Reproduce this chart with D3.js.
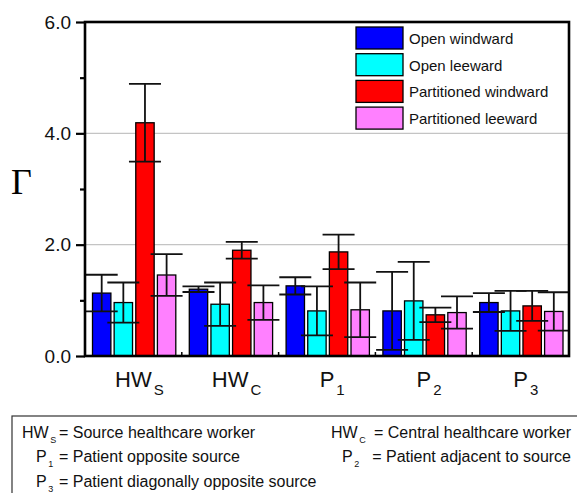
<!DOCTYPE html>
<html>
<head>
<meta charset="utf-8">
<title>Gamma by position</title>
<script src="https://d3js.org/d3.v7.min.js"></script>
<style>
  body { margin: 0; background: #fff; }
  svg { display: block; font-family: "Liberation Sans", Arial, sans-serif; }
</style>
</head>
<body>
<div id="container"></div>
<script>

// data
var groups = ["HW", "HW", "P", "P", "P"];
var groupSubs = ["S", "C", "1", "2", "3"];
var seriesNames = ["Open windward", "Open leeward", "Partitioned windward", "Partitioned leeward"];
var seriesColors = ["#0000ff", "#00ffff", "#ff0000", "#ff80ff"];

var openWindward = [1.13, 1.20, 1.26, 0.81, 0.96];
var openLeeward = [0.96, 0.93, 0.81, 0.99, 0.81];
var partWindward = [4.19, 1.90, 1.87, 0.74, 0.90];
var partLeeward = [1.455, 0.96, 0.83, 0.78, 0.80];

var openWindwardErr = [0.33, 0.05, 0.155, 0.70, 0.17];
var openLeewardErr = [0.36, 0.39, 0.44, 0.70, 0.36];
var partWindwardErr = [0.70, 0.15, 0.31, 0.13, 0.27];
var partLeewardErr = [0.375, 0.31, 0.49, 0.29, 0.345];

var yTicks = [0, 2, 4, 6];
var yMinor = [1, 3, 5];
var gridVals = [2, 4];

var notes = [
  ["HW", "S", "= Source healthcare worker"],
  ["HW", "C", "= Central healthcare worker"],
  ["P", "1", "= Patient opposite source"],
  ["P", "2", "= Patient adjacent to source"],
  ["P", "3", "= Patient diagonally opposite source"]
];

const width = 577, height = 493,
      margin = {top: 22, right: 8, bottom: 137, left: 85};

var values = [openWindward, openLeeward, partWindward, partLeeward];
var errors = [openWindwardErr, openLeewardErr, partWindwardErr, partLeewardErr];
var keys = groups.map(function(g, i) { return i; });

var rows = [];
keys.forEach(function(k) {
  seriesNames.forEach(function(s, j) {
    rows.push({group: k, series: j, value: values[j][k], err: errors[j][k]});
  });
});

var svg = d3.select("#container").append("svg")
    .attr("width", width)
    .attr("height", height);

var x0 = d3.scaleBand().domain(keys).range([margin.left, width - margin.right]);
var x1 = d3.scaleBand().domain(d3.range(seriesNames.length))
    .range([7.5, x0.bandwidth() - 6]).paddingInner(0.15);
var y = d3.scaleLinear().domain([0, 6]).range([height - margin.bottom, margin.top]);

var plotL = margin.left, plotR = width - margin.right, plotT = margin.top, plotB = y(0);

// grid
svg.selectAll(".grid").data(gridVals).enter().append("line")
    .attr("x1", plotL).attr("x2", plotR)
    .attr("y1", function(d) { return y(d); }).attr("y2", function(d) { return y(d); })
    .attr("stroke", "#c4c4c4").attr("stroke-width", 1.2);

// bars
svg.selectAll(".bar").data(rows).enter().append("rect")
    .attr("x", function(d) { return x0(d.group) + x1(d.series); })
    .attr("y", function(d) { return y(d.value); })
    .attr("width", x1.bandwidth())
    .attr("height", function(d) { return y(0) - y(d.value); })
    .attr("fill", function(d) { return seriesColors[d.series]; })
    .attr("stroke", "#000").attr("stroke-width", 1.3);

// error bars
var capW = 32;
var eb = svg.selectAll(".err").data(rows).enter().append("g")
    .attr("stroke", "#111").attr("stroke-width", 1.8);
function cx(d) { return x0(d.group) + x1(d.series) + x1.bandwidth() / 2; }
eb.append("line")
    .attr("x1", cx).attr("x2", cx)
    .attr("y1", function(d) { return y(d.value - d.err); })
    .attr("y2", function(d) { return y(d.value + d.err); });
[-1, 1].forEach(function(sgn) {
  eb.append("line")
      .attr("x1", function(d) { return cx(d) - capW / 2; })
      .attr("x2", function(d) { return cx(d) + capW / 2; })
      .attr("y1", function(d) { return y(d.value + sgn * d.err); })
      .attr("y2", function(d) { return y(d.value + sgn * d.err); });
});

// frame and axes
svg.append("rect")
    .attr("x", plotL).attr("y", plotT)
    .attr("width", plotR - plotL).attr("height", plotB - plotT)
    .attr("fill", "none").attr("stroke", "#000").attr("stroke-width", 2.6);

var yAxis = svg.append("g").attr("transform", `translate(${plotL}, 0)`)
    .call(d3.axisLeft(y).tickValues(yTicks).tickSize(9).tickPadding(5)
      .tickFormat(d3.format(".1f")));
yAxis.select(".domain").remove();
yAxis.selectAll("line").attr("stroke", "#000").attr("stroke-width", 2.2);
yAxis.selectAll("text").attr("font-size", "19px").attr("fill", "#111")
    .attr("font-family", "Liberation Sans, Arial, sans-serif");

svg.append("g").attr("transform", `translate(${plotL}, 0)`)
    .call(d3.axisLeft(y).tickValues(yMinor).tickSize(5).tickFormat(""))
    .call(function(g) { g.select(".domain").remove(); })
    .selectAll("line").attr("stroke", "#000").attr("stroke-width", 2.2);

// small category ticks on the bottom axis
svg.selectAll(".ctick").data(keys.slice(1)).enter().append("line")
    .attr("x1", function(d) { return x0(d); }).attr("x2", function(d) { return x0(d); })
    .attr("y1", plotB).attr("y2", plotB - 4)
    .attr("stroke", "#000").attr("stroke-width", 1.5);

// y label
svg.append("text")
    .attr("x", 11).attr("y", 194)
    .attr("font-family", "Liberation Serif, Times New Roman, serif")
    .attr("font-size", "36px")
    .text("\u0393");

// x labels with subscripts
keys.forEach(function(k) {
  var c = x0(k) + x0.bandwidth() / 2;
  var main = svg.append("text")
      .attr("x", c).attr("y", 387)
      .attr("text-anchor", "middle")
      .attr("font-size", "22px").attr("fill", "#111")
      .text(groups[k]);
  var w = main.node().getComputedTextLength();
  svg.append("text")
      .attr("x", c + w / 2 + 2).attr("y", 395)
      .attr("font-size", "15px").attr("fill", "#111")
      .text(groupSubs[k]);
});

// legend
var legend = svg.append("g");
seriesNames.forEach(function(s, i) {
  var ly = 27 + i * 26.7;
  legend.append("rect")
      .attr("x", 356).attr("y", ly).attr("width", 47).attr("height", 22)
      .attr("fill", seriesColors[i]).attr("stroke", "#000").attr("stroke-width", 1.3);
  legend.append("text")
      .attr("x", 409).attr("y", ly + 17)
      .attr("font-size", "15px").attr("fill", "#111")
      .text(s);
});

// note box below the chart
svg.append("rect")
    .attr("x", 12).attr("y", 416).attr("width", 600).attr("height", 120)
    .attr("fill", "none").attr("stroke", "#333").attr("stroke-width", 1.2);

var notePos = [
  {x: 22, y: 438, eq: 59, anchor: "start"},
  {x: 331, y: 438, eq: 571, anchor: "end"},
  {x: 36, y: 462, eq: 59, anchor: "start"},
  {x: 342, y: 462, eq: 571, anchor: "end"},
  {x: 36, y: 487, eq: 59, anchor: "start"}
];
notes.forEach(function(n, i) {
  var p = notePos[i];
  var t = svg.append("text")
      .attr("x", p.x).attr("y", p.y)
      .attr("font-size", "16px").attr("fill", "#111")
      .text(n[0]);
  var w = t.node().getComputedTextLength();
  svg.append("text")
      .attr("x", p.x + w + 1.5).attr("y", p.y + 5)
      .attr("font-size", "9px").attr("fill", "#111")
      .text(n[1]);
  svg.append("text")
      .attr("x", p.eq).attr("y", p.y)
      .attr("text-anchor", p.anchor)
      .attr("font-size", "16px").attr("fill", "#111")
      .text(n[2]);
});

</script>
</body>
</html>
